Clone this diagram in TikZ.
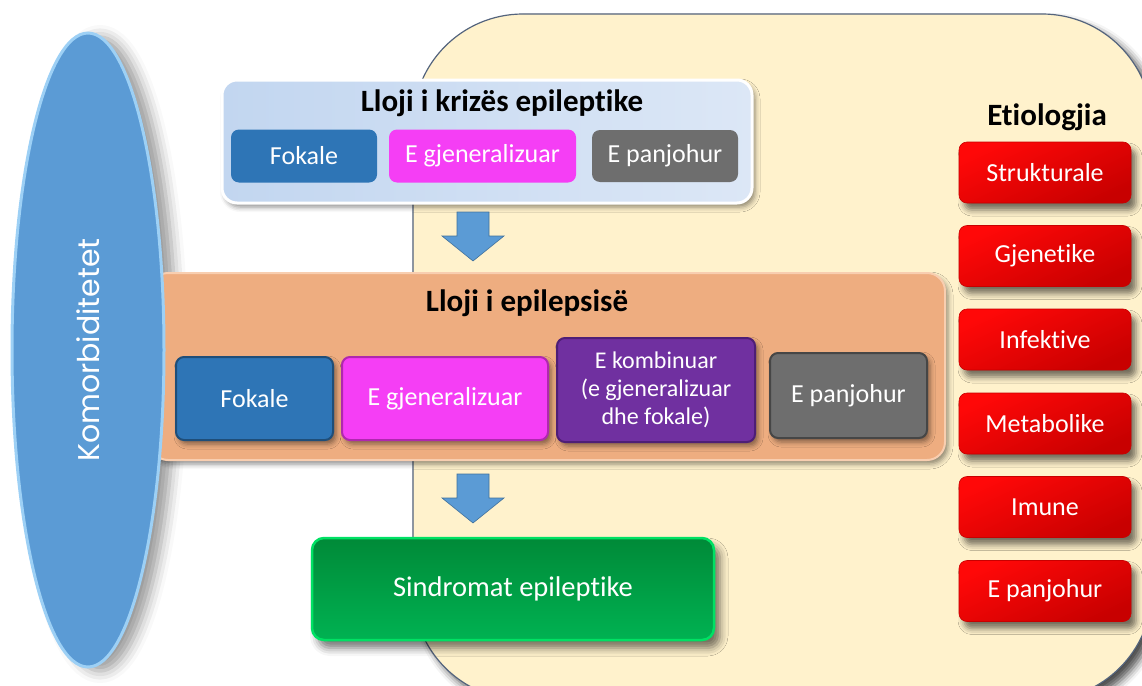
\documentclass[tikz,border=0pt]{standalone}
\usepackage{fontspec}
\setmainfont{Carlito}[Ligatures={NoCommon}]
\newfontfamily\komfont{Poppins}
\usetikzlibrary{shapes.geometric,shadows.blur,calc}
\definecolor{beige}{RGB}{255,242,204}
\definecolor{beigeedge}{RGB}{84,100,125}
\definecolor{ellblue}{RGB}{91,155,213}
\definecolor{elledge}{RGB}{157,208,245}
\definecolor{panelA}{RGB}{194,214,240}
\definecolor{panelB}{RGB}{220,231,246}
\definecolor{btnblue}{RGB}{46,117,182}
\definecolor{btnblueE}{RGB}{31,78,121}
\definecolor{btnmag}{RGB}{245,62,245}
\definecolor{btnmagE}{RGB}{175,40,175}
\definecolor{btngray}{RGB}{110,110,110}
\definecolor{btngrayE}{RGB}{70,70,70}
\definecolor{btnpurple}{RGB}{112,48,160}
\definecolor{btnpurpleE}{RGB}{78,30,118}
\definecolor{orangebox}{RGB}{238,173,128}
\definecolor{orangeedge}{RGB}{248,206,176}
\definecolor{greenA}{RGB}{0,138,56}
\definecolor{greenB}{RGB}{0,178,82}
\definecolor{greenE}{RGB}{0,225,100}
\definecolor{redA}{RGB}{255,8,8}
\definecolor{redB}{RGB}{200,0,0}
\definecolor{arrowblue}{RGB}{91,155,213}
\definecolor{arrowedge}{RGB}{65,113,156}
\begin{document}
\begin{tikzpicture}[x=1pt,y=-1pt,
  softshadow/.style={blur shadow={shadow xshift=3pt,shadow yshift=-4pt,shadow blur radius=5pt,shadow opacity=45}},
  panel/.style={rounded corners=15pt,inner sep=0pt},
  titletext/.style={font=\bfseries\fontsize{31}{34}\selectfont,text=black,inner sep=0pt},
  btn/.style={rounded corners=8pt,inner sep=0pt,text=white,align=center,font=\fontsize{26}{30}\selectfont},
  btnrow/.style={btn,line width=2pt,softshadow},
  redbtn/.style={btn,top color=redA,bottom color=redB,shading angle=25,draw=redB,line width=0.6pt,
     minimum width=172pt,minimum height=61pt,
     blur shadow={shadow xshift=5pt,shadow yshift=-7pt,shadow blur radius=6pt,shadow opacity=55}},
  blockarrow/.style={fill=arrowblue,draw=arrowedge,line width=0.6pt}
]
\useasboundingbox (0,0) rectangle (1142,685);
\clip (0,0) rectangle (1142,685);

% big beige background
\path[fill=beige,draw=beigeedge,line width=1.2pt,rounded corners=110pt,
  blur shadow={shadow xshift=7pt,shadow yshift=-7pt,shadow blur radius=8pt,shadow opacity=70}]
  (413,14) rectangle (1152,700);

% shadow of the ellipse
\path[blur shadow={shadow xshift=12pt,shadow yshift=-4pt,shadow blur radius=12pt,shadow opacity=40}]
  (88,350) ellipse [x radius=76, y radius=317];

% top panel
\node[panel,left color=panelA,right color=panelB,draw=white,line width=3pt,softshadow,
  minimum width=530pt,minimum height=123pt] (tb) at (487,141.5) {};
\node[titletext] (tbt) at (502,103) {Lloji i krizës epileptike};
\node[btn,fill=btnblue,minimum width=146pt,minimum height=53pt] (f1) at (304,156) {Fokale};
\node[btn,fill=btnmag,minimum width=187pt,minimum height=53pt] (g1) at (482.5,156) {E gjeneralizuar};
\node[btn,fill=btngray,minimum width=146pt,minimum height=52pt] (p1) at (665,156) {E panjohur};

% orange panel
\node[panel,rounded corners=18pt,fill=orangebox,draw=orangeedge,line width=2pt,softshadow,
  minimum width=795pt,minimum height=187pt] (ob) at (547.5,366.5) {};
\node[titletext] (obt) at (527,303) {Lloji i epilepsisë};
\node[btnrow,fill=btnblue,draw=btnblueE,minimum width=157pt,minimum height=83pt] (f2) at (254.5,398.5) {Fokale};
\node[btnrow,fill=btnmag,draw=btnmagE,minimum width=206pt,minimum height=83pt] (g2) at (445,398.5) {E gjeneralizuar};
\node[btnrow,fill=btnpurple,draw=btnpurpleE,minimum width=198pt,minimum height=104pt,
  font=\fontsize{24}{28}\selectfont] (k2) at (656,390) {E kombinuar\\(e gjeneralizuar\\dhe fokale)};
\node[btnrow,fill=btngray,draw=btngrayE,minimum width=157pt,minimum height=85pt] (p2) at (848.5,395.5) {E panjohur};

% Komorbiditetet ellipse
\node[ellipse,fill=ellblue,draw=elledge,line width=3pt,inner sep=0pt,
  minimum width=152pt,minimum height=634pt,text=white,
  font=\komfont\fontsize{30}{30}\selectfont] (kom) at (88,350) {\rotatebox{90}{Komorbiditetet}};

% block arrows
\coordinate (a1) at (473,212);
\coordinate (a2) at (473,474);
\foreach \c in {a1,a2}{
  \draw[blockarrow,shift={(\c)}] (-16,0) -- (16,0) -- (16,24) -- (31,24) -- (0,49) -- (-31,24) -- (-16,24) -- cycle;
}

% syndromes
\node[btn,rounded corners=12pt,top color=greenA,bottom color=greenB,draw=greenE,line width=2.5pt,
  font=\fontsize{28.5}{32}\selectfont,
  blur shadow={shadow xshift=6pt,shadow yshift=-8pt,shadow blur radius=8pt,shadow opacity=55},
  minimum width=402pt,minimum height=102pt] (sg) at (513,589) {Sindromat epileptike};

% etiology
\node[titletext] (et) at (1047,117) {Etiologjia};
\node[redbtn] (e1) at (1045,172.5) {Strukturale};
\node[redbtn] (e2) at (1045,256) {Gjenetike};
\node[redbtn] (e3) at (1045,339.5) {Infektive};
\node[redbtn] (e4) at (1045,423.5) {Metabolike};
\node[redbtn] (e5) at (1045,507) {Imune};
\node[redbtn] (e6) at (1045,591) {E panjohur};
\end{tikzpicture}
\end{document}
